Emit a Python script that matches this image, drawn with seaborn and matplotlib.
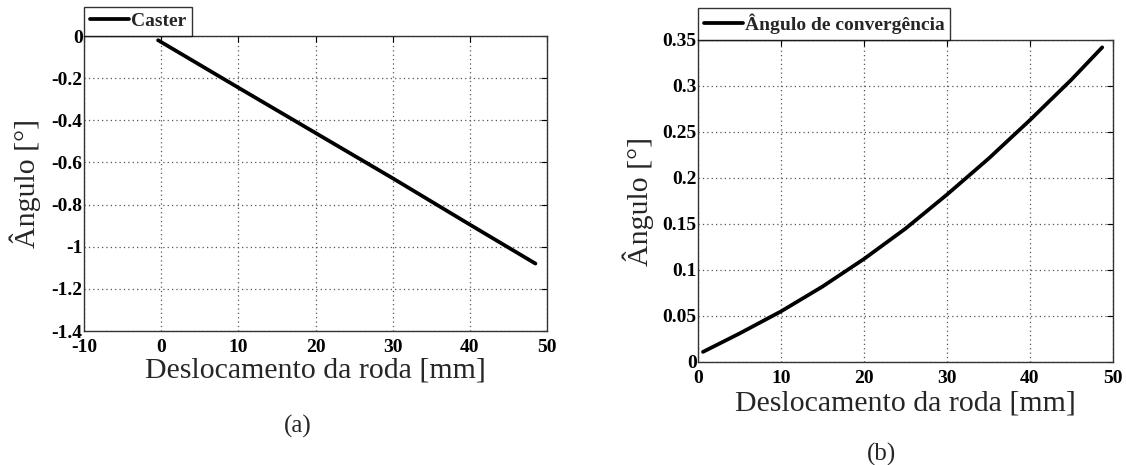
import numpy as np
import pandas as pd
import matplotlib
matplotlib.use("Agg")
import matplotlib.pyplot as plt
import seaborn as sns

# Data
caster_x = [-0.4, 10, 20, 30, 40, 48.5]
caster_y = [-0.02, -0.245, -0.46, -0.675, -0.895, -1.08]

conv_x = [0.6, 5, 10, 15, 20, 25, 30, 35, 40, 45, 48.7]
conv_y = [0.011, 0.031, 0.055, 0.082, 0.112, 0.145, 0.182, 0.221, 0.263, 0.307, 0.342]

left_xticks = [-10, 0, 10, 20, 30, 40, 50]
left_yticks = [-1.4, -1.2, -1, -0.8, -0.6, -0.4, -0.2, 0]
left_yticklabels = ["-1.4", "-1.2", "-1", "-0.8", "-0.6", "-0.4", "-0.2", "0"]
right_xticks = [0, 10, 20, 30, 40, 50]
right_yticks = [0, 0.05, 0.1, 0.15, 0.2, 0.25, 0.3, 0.35]
right_yticklabels = ["0", "0.05", "0.1", "0.15", "0.2", "0.25", "0.3", "0.35"]

xlabel = "Deslocamento da roda [mm]"
ylabel = "Ângulo [°]"

sns.set_style("white")
plt.rcParams['font.family'] = ['Liberation Serif', 'DejaVu Serif']

fig = plt.figure(figsize=(11.26, 4.65), dpi=100)
ax1 = fig.add_axes([84/1126, 1-331/465, (547-84)/1126, (331-36)/465])
ax2 = fig.add_axes([698/1126, 1-362/465, (1113-698)/1126, (362-40)/465])

df1 = pd.DataFrame({"x": caster_x, "y": caster_y})
df2 = pd.DataFrame({"x": conv_x, "y": conv_y})

sns.lineplot(data=df1, x="x", y="y", ax=ax1, color="black", linewidth=2.7, label="Caster")
sns.lineplot(data=df2, x="x", y="y", ax=ax2, color="black", linewidth=2.7, label="Ângulo de convergência")

def style(ax, xticks, yticks, yticklabels, xlim, ylim, xl_pos, yl_pos):
    ax.set_xlim(*xlim)
    ax.set_ylim(*ylim)
    ax.set_xticks(xticks)
    ax.set_xticklabels([str(t) for t in xticks])
    ax.set_yticks(yticks)
    ax.set_yticklabels(yticklabels)
    ax.grid(True, linestyle=(0, (1, 2.5)), color="#555555", linewidth=0.9)
    ax.tick_params(direction="in", length=4, width=0.8, top=True, right=True,
                   labelsize=14, colors="black")
    ax.tick_params(axis="y", pad=1)
    ax.tick_params(axis="x", pad=6)
    for lab in ax.get_xticklabels() + ax.get_yticklabels():
        lab.set_fontweight("bold")
    for sp in ax.spines.values():
        sp.set_visible(True)
        sp.set_color("#333333")
        sp.set_linewidth(1.0)
    ax.set_xlabel(xlabel, fontsize=21.5)
    ax.set_ylabel(ylabel, fontsize=21.5)
    ax.xaxis.label.set_va("center")
    ax.yaxis.label.set_va("center")
    ax.xaxis.set_label_coords(0.5, xl_pos)
    ax.yaxis.set_label_coords(yl_pos, 0.5)
    leg = ax.legend(loc="lower left", bbox_to_anchor=(0, 1), borderaxespad=0,
                    frameon=True, fancybox=False, handlelength=2.0, handletextpad=0.1,
                    borderpad=0.3, prop={"weight": "bold", "size": 14})
    leg.get_frame().set_edgecolor("black")
    leg.get_frame().set_linewidth(1.0)

style(ax1, left_xticks, left_yticks, left_yticklabels, (-10, 50), (-1.4, 0),
      (331-371)/295, (25-84)/463)
style(ax2, right_xticks, right_yticks, right_yticklabels, (0, 50), (0, 0.35),
      (362-403)/322, (638-698)/415)

fig.text(298/1126, 1-426/465, "(a)", ha="center", va="center", fontsize=18)
fig.text(882/1126, 1-454/465, "(b)", ha="center", va="center", fontsize=18)

fig.savefig("out.png", dpi=100, facecolor="white")
